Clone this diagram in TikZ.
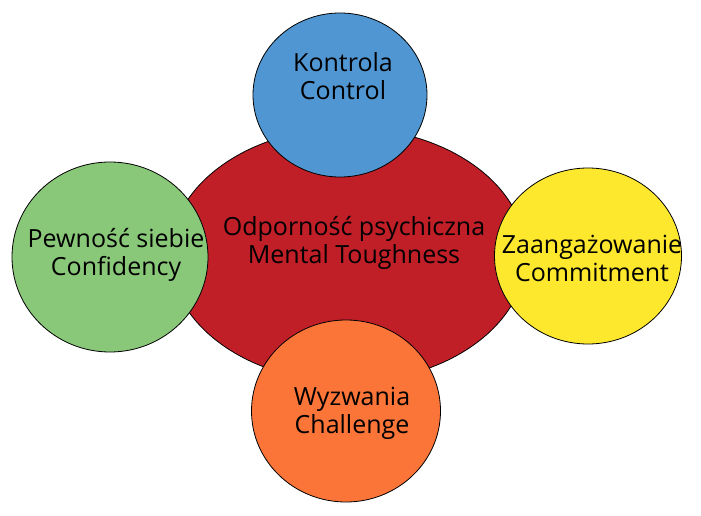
\documentclass[tikz,border=0pt]{standalone}
\usepackage{fontspec}
\setmainfont{Open Sans}
\usetikzlibrary{shapes.geometric}
\definecolor{cred}{HTML}{C11F28}
\definecolor{cblue}{HTML}{5096D2}
\definecolor{cgreen}{HTML}{8AC879}
\definecolor{cyellow}{HTML}{FEE82E}
\definecolor{corange}{HTML}{FB7539}
\tikzset{
  blob/.style={ellipse, draw=black, line width=0.8pt, inner sep=0pt},
  lbl/.style={align=center, font=\fontsize{25}{28}\selectfont, text=black, inner sep=0pt}
}
\begin{document}
\begin{tikzpicture}[x=1pt,y=-1pt]
\useasboundingbox (0,0) rectangle (701,516);
\node[blob, fill=cred, minimum width=356pt, minimum height=254pt] (core) at (348,255) {};
\node[blob, fill=cblue, minimum width=174pt, minimum height=164pt] (control) at (340,95) {};
\node[blob, fill=cgreen, minimum width=196pt, minimum height=190pt] (conf) at (110,257) {};
\node[blob, fill=cyellow, minimum width=187pt, minimum height=176pt] (commit) at (588,256) {};
\node[blob, fill=corange, minimum width=189pt, minimum height=182pt] (chall) at (346,411) {};
\node[lbl] (tcore) at (354,243) {Odporność psychiczna\\Mental Toughness};
\node[lbl] (tcontrol) at (343,76) {Kontrola\\Control};
\node[lbl] (tconf) at (116,255) {Pewność siebie\\Confidency};
\node[lbl] (tcommit) at (592,258) {Zaangażowanie\\Commitment};
\node[lbl] (tchall) at (352,413) {Wyzwania\\Challenge};
\end{tikzpicture}
\end{document}
